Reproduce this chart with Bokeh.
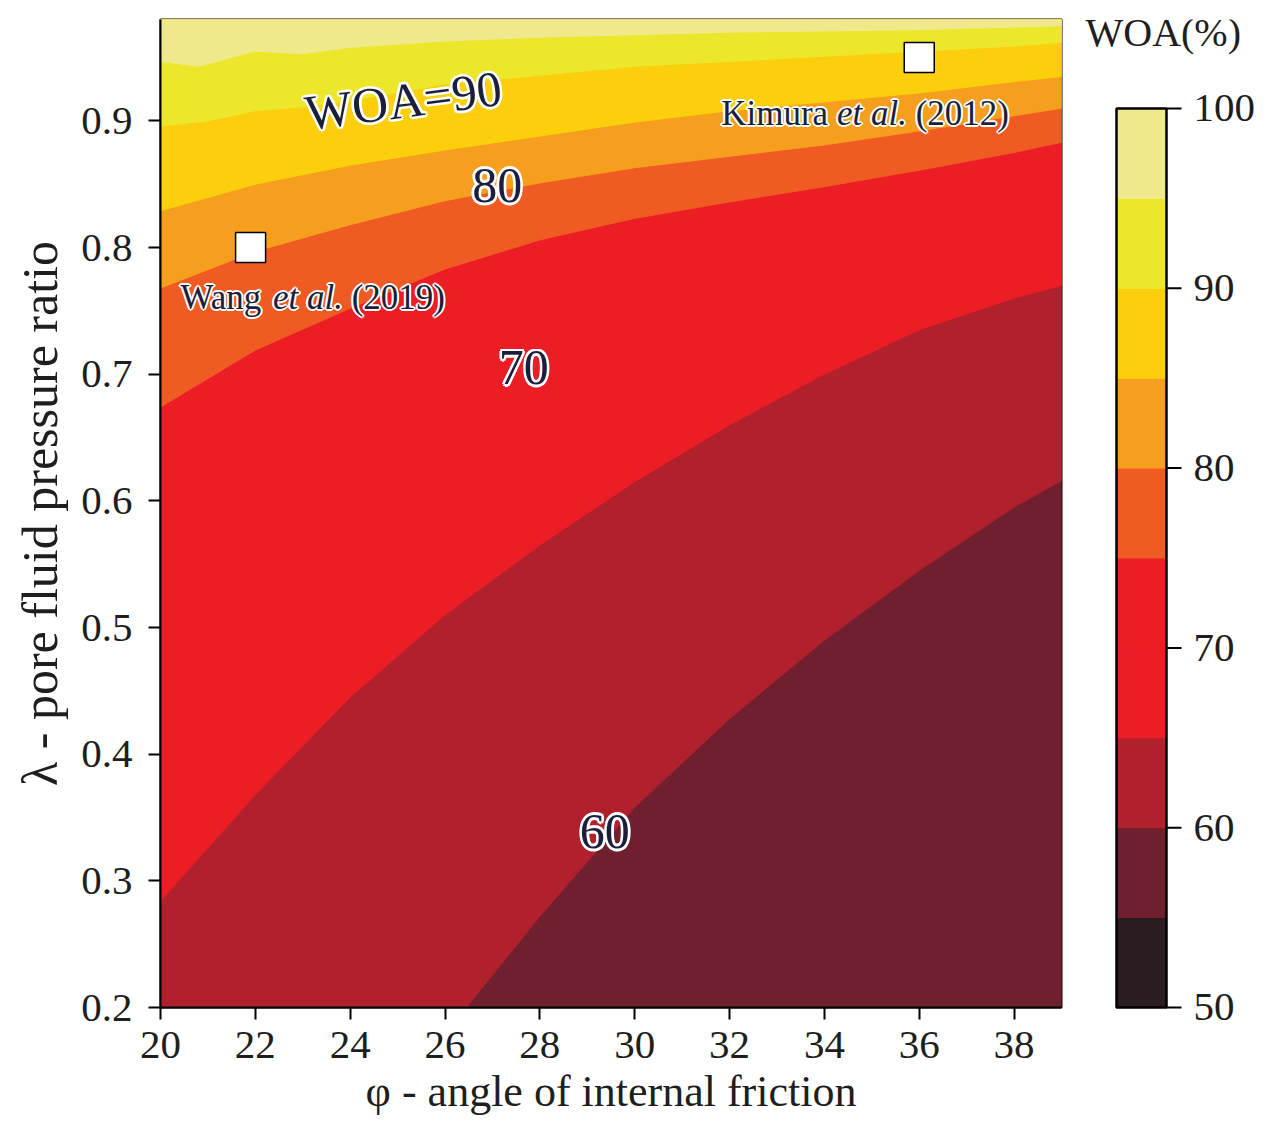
from bokeh.plotting import figure
from bokeh.layouts import row
from bokeh.models import ColumnDataSource, FixedTicker, Range1d
from bokeh.core.properties import value
from bokeh.embed import file_html
from bokeh.resources import INLINE

# ---------------- data ----------------
phi_ticks = [20, 22, 24, 26, 28, 30, 32, 34, 36, 38]
lam_ticks = [0.2, 0.3, 0.4, 0.5, 0.6, 0.7, 0.8, 0.9]
woa_ticks = [50, 60, 70, 80, 90, 100]

# colour levels of the filled contours (band [level, level+5])
woa_levels = [50, 55, 60, 65, 70, 75, 80, 85, 90, 95, 100]
woa_colors = ["#2b1c22", "#6f1f2d", "#b0202d", "#ec1d25", "#ec1d25",
              "#ef5b23", "#f69f1e", "#fbcf0c", "#ece72b", "#efe98b"]

# contour boundaries (phi, lambda)
c60_phi = [26.45, 28, 30, 32, 34, 36, 38, 39]
c60_lam = [0.2, 0.272, 0.358, 0.428, 0.49, 0.545, 0.595, 0.616]

c65_phi = [20, 22, 24, 26, 28, 30, 32, 34, 36, 38, 39]
c65_lam = [0.284, 0.368, 0.445, 0.51, 0.565, 0.615, 0.66, 0.70, 0.735, 0.76, 0.77]

c75_phi = [20, 22, 24, 26, 28, 30, 32, 34, 36, 38, 39]
c75_lam = [0.674, 0.719, 0.752, 0.783, 0.806, 0.823, 0.836, 0.848, 0.861, 0.875, 0.883]

c80_phi = [20, 22, 24, 26, 28, 30, 32, 34, 36, 38, 39]
c80_lam = [0.768, 0.797, 0.818, 0.837, 0.851, 0.863, 0.872, 0.881, 0.892, 0.904, 0.910]

c85_phi = [20, 22, 24, 26, 28, 30, 32, 34, 36, 38, 39]
c85_lam = [0.829, 0.850, 0.865, 0.877, 0.888, 0.899, 0.908, 0.915, 0.922, 0.931, 0.935]

c90_phi = [20, 21, 22, 23, 24, 26, 28, 30, 32, 34, 36, 38, 39]
c90_lam = [0.896, 0.900, 0.908, 0.911, 0.916, 0.929, 0.936, 0.943, 0.947, 0.951, 0.955, 0.959, 0.962]

c95_phi = [20, 20.8, 21.5, 22, 23, 24, 26, 28, 30, 32, 34, 36, 38, 39]
c95_lam = [0.947, 0.943, 0.950, 0.955, 0.953, 0.958, 0.963, 0.966, 0.968, 0.970, 0.971, 0.972, 0.974, 0.975]

# contour labels
label_text = ["WOA=90", "80", "70", "60"]
label_phi = [25.12, 27.1, 27.66, 29.37]
label_lam = [0.916, 0.849, 0.705, 0.339]
label_angle = [0.13, 0.0, 0.0, 0.0]

# published estimates
site_author = ["Wang", "Kimura"]
site_year = ["(2019)", "(2012)"]
site_phi = [21.9, 36.0]
site_lam = [0.80, 0.95]

colorbar_title = "WOA(%)"

PHI_MIN, PHI_MAX = 20, 39
LAM_MIN, LAM_MAX = 0.2, 0.98
CB_MIN, CB_MAX = 50, 100
CB_LOW, CB_TOP = 48.33, 104.95   # visible colour-bar range (room for labels)

# ---------------- styling ----------------
FONT = "Liberation Serif"
INK = "#1b1f3c"
TXT = "#1e1e1e"

p = figure(frame_width=901, frame_height=988,
           x_range=Range1d(PHI_MIN, PHI_MAX), y_range=Range1d(LAM_MIN, LAM_MAX),
           output_backend="svg", toolbar_location=None,
           min_border_left=160, min_border_top=19, min_border_bottom=126, min_border_right=8)
p.grid.visible = False
p.outline_line_color = "black"
p.outline_line_width = 2

contours = [(55, None, None), (60, c60_phi, c60_lam), (65, c65_phi, c65_lam),
            (75, c75_phi, c75_lam), (80, c80_phi, c80_lam), (85, c85_phi, c85_lam),
            (90, c90_phi, c90_lam), (95, c95_phi, c95_lam)]
for lev, cx, cy in contours:
    if cx is None:
        xs = [PHI_MIN, PHI_MAX, PHI_MAX, PHI_MIN]
        ys = [LAM_MIN, LAM_MIN, LAM_MAX, LAM_MAX]
    else:
        xs, ys = list(cx), list(cy)
        if xs[0] > PHI_MIN:
            xs = [PHI_MIN] + xs
            ys = [LAM_MIN] + ys
        xs += [PHI_MAX, PHI_MIN]
        ys += [LAM_MAX, LAM_MAX]
    col = woa_colors[woa_levels.index(lev)]
    p.patch(xs, ys, fill_color=col, line_color=col, line_width=1)


def halo_text(fig, src, size, r, align="center", baseline="middle", style="normal",
              xoff=0, yoff=0, angle_field=None, text_field="text"):
    dirs = [(1, 0), (-1, 0), (0, 1), (0, -1), (0.71, 0.71), (-0.71, 0.71), (0.71, -0.71), (-0.71, -0.71)]
    kw = dict(x="x", y="y", text=text_field, source=src, text_font=value(FONT),
              text_font_size=value(f"{size}px"), text_font_style=style,
              text_align=align, text_baseline=baseline)
    if angle_field:
        kw["angle"] = angle_field
    for dx, dy in dirs:
        fig.text(x_offset=xoff + dx * r, y_offset=yoff + dy * r, text_color="white", **kw)
    fig.text(x_offset=xoff, y_offset=yoff, text_color=INK, **kw)


lab_src = ColumnDataSource(dict(x=label_phi, y=label_lam, text=label_text, ang=label_angle))
halo_text(p, lab_src, 50, 2.6, angle_field="ang")

# site markers
p.scatter(site_phi, site_lam, marker="square", size=30, fill_color="white",
          line_color="black", line_width=1.5)

# site annotations: "Author et al. (year)" with italic "et al."
W = {"W": .944, "a": .444, "n": .5, "g": .5, " ": .25, "K": .722, "i": .278, "m": .778,
     "u": .5, "r": .333, "(": .333, ")": .333, ".": .25}
WI = {"e": .444, "t": .278, " ": .25, "a": .5, "l": .278, ".": .25}


def tw(s, size, table):
    return sum(table.get(c, 0.5) for c in s) * size


ANN = 35
ann_dx = [-70, -198]
ann_dy = [50, 56]
for i in range(len(site_author)):
    parts = [(site_author[i], "normal", W), ("et al.", "italic", WI), (site_year[i], "normal", W)]
    off = ann_dx[i]
    for txt, sty, tab in parts:
        src = ColumnDataSource(dict(x=[site_phi[i]], y=[site_lam[i]], text=[txt]))
        halo_text(p, src, ANN, 2.0, align="left", baseline="alphabetic", style=sty,
                  xoff=off, yoff=ann_dy[i])
        off += tw(txt, ANN, tab) + tw(" ", ANN, W)

# axes
p.xaxis.ticker = FixedTicker(ticks=phi_ticks)
p.yaxis.ticker = FixedTicker(ticks=lam_ticks)
p.xaxis.axis_label = "φ - angle of internal friction"
p.yaxis.axis_label = "λ - pore fluid pressure ratio"
for ax in (p.xaxis, p.yaxis):
    ax.axis_line_color = "black"
    ax.axis_line_width = 2
    ax.major_tick_line_color = "black"
    ax.major_tick_line_width = 2
    ax.major_tick_in = 0
    ax.major_tick_out = 12
    ax.minor_tick_line_color = None
    ax.major_label_text_font = FONT
    ax.major_label_text_font_size = "41px"
    ax.major_label_text_color = TXT
    ax.axis_label_text_font = FONT
    ax.axis_label_text_font_style = "normal"
    ax.axis_label_text_color = TXT
p.xaxis.axis_label_text_font_size = "44px"
p.yaxis.axis_label_text_font_size = "50px"
p.xaxis.major_label_standoff = 12
p.xaxis.axis_label_standoff = 6
p.yaxis.major_label_standoff = 16
p.yaxis.axis_label_standoff = 10

# ---------------- colour bar ----------------
# bar occupies x in [0, 1]; the wide frame leaves room for ticks, labels and title
cb = figure(frame_width=189, frame_height=1018, x_range=Range1d(-0.94, 2.84),
            y_range=Range1d(CB_LOW, CB_TOP),
            x_axis_location=None, y_axis_location=None,
            output_backend="svg", toolbar_location=None,
            min_border_left=0, min_border_top=19, min_border_bottom=96, min_border_right=0)
cb.grid.visible = False
cb.outline_line_color = None
cb.quad(left=0, right=1, bottom=woa_levels[:-1], top=woa_levels[1:],
        fill_color=woa_colors, line_color=woa_colors)
cb.quad(left=[0], right=[1], bottom=[CB_MIN], top=[CB_MAX], fill_color=None,
        line_color="black", line_width=2.5)
n = len(woa_ticks)
cb.segment(x0=[1] * n, y0=woa_ticks, x1=[1.3] * n, y1=woa_ticks,
           line_color="black", line_width=2)
cb.text(x=[1.54] * n, y=woa_ticks, text=[str(t) for t in woa_ticks],
        text_font=value(FONT), text_font_size=value("41px"), text_color=TXT,
        text_align="left", text_baseline="middle")
cb.text(x=[-0.62], y=[104.2], text=[colorbar_title], text_font=value(FONT),
        text_font_size=value("40px"), text_color=TXT, text_align="left",
        text_baseline="middle")

layout = row(p, cb)
open("out.html", "w").write(file_html(layout, INLINE))
